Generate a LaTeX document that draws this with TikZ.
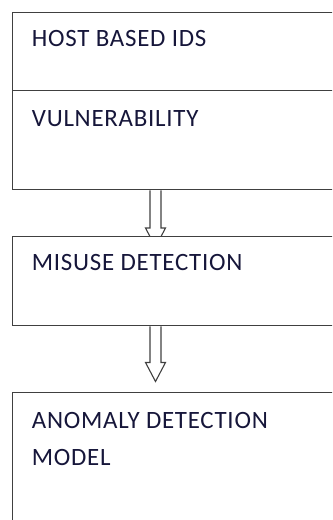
\documentclass[tikz,border=0pt]{standalone}
\usepackage{fontspec}
\setmainfont{Carlito}[LetterSpace=3]
\usetikzlibrary{calc,backgrounds}
\definecolor{edge}{HTML}{404040}
\definecolor{ink}{HTML}{16163A}

% hollow block arrow pointing down from #1 to #2
\newcommand\hollowarrow[2]{%
  \draw[hollow] let \p1=(#1), \p2=(#2) in
    (\x1-5.5bp,\y1) -- (\x1-5.5bp,\y2+19bp) -- (\x1-10bp,\y2+19bp) --
    (\x1,\y2) -- (\x1+10bp,\y2+19bp) -- (\x1+5.5bp,\y2+19bp) -- (\x1+5.5bp,\y1);}

\begin{document}
\begin{tikzpicture}[x=1bp,y=-1bp,
  box/.style={draw=edge, line width=1.3bp, fill=white, rectangle,
    inner sep=0pt, anchor=north west, minimum width=340bp},
  lbl/.style={anchor=base west, inner sep=0pt, text=ink,
    font=\fontsize{25}{28}\selectfont},
  hollow/.style={draw=edge, line width=1.1bp, line join=miter}]
\useasboundingbox (0,0) rectangle (332,520);
\clip (0,0) rectangle (332,520);

% boxes
\node[box, minimum height=177bp] (b1) at (12,12) {};
\node[box, minimum height=89bp]  (b2) at (12,236) {};
\node[box, minimum height=140bp] (b3) at (12,391.5) {};

% divider inside the top box
\coordinate (d1) at ($(b1.north west)+(0,78.5)$);
\coordinate (d2) at ($(b1.north east)+(0,78.5)$);
\draw[edge, line width=1.3bp] (d1) -- (d2);

% labels
\node[lbl] (t1) at ($(b1.north west)+(19.7,34.6)$) {HOST BASED IDS};
\node[lbl] (t2) at ($(b1.north west)+(19.7,114.3)$) {VULNERABILITY};
\node[lbl] (t3) at ($(b2.north west)+(19.7,34.5)$) {MISUSE DETECTION};
\node[lbl] (t4) at ($(b3.north west)+(19.7,37)$) {ANOMALY DETECTION};
\node[lbl] (t5) at ($(b3.north west)+(19.7,73.5)$) {MODEL};

% connectors, kept behind the boxes
\begin{pgfonlayer}{background}
  \coordinate (a1s) at ($(b1.south west)+(143.5,0)$);
  \coordinate (a1e) at ($(b2.north west)+(143.5,11)$);
  \coordinate (a2s) at ($(b2.south west)+(143.5,0)$);
  \coordinate (a2e) at ($(b3.north west)+(143.5,-10)$);
  \hollowarrow{a1s}{a1e}
  \hollowarrow{a2s}{a2e}
\end{pgfonlayer}
\end{tikzpicture}
\end{document}
